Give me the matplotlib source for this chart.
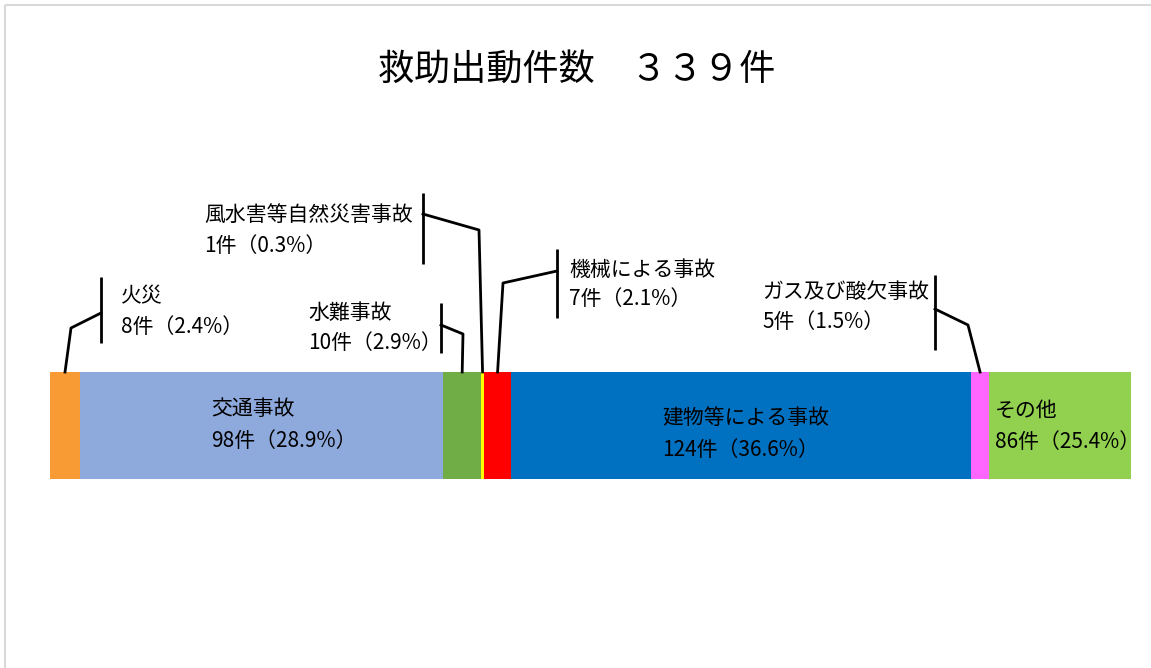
import matplotlib.pyplot as plt
from matplotlib.patches import Rectangle

plt.rcParams['font.family'] = ['Noto Sans CJK JP', 'DejaVu Sans']

# data
title = '救助出動件数　３３９件'
categories = ['火災', '交通事故', '水難事故', '風水害等自然災害事故',
              '機械による事故', '建物等による事故', 'ガス及び酸欠事故', 'その他']
counts = [8, 98, 10, 1, 7, 124, 5, 86]
pcts = ['2.4', '28.9', '2.9', '0.3', '2.1', '36.6', '1.5', '25.4']
# segment lengths as drawn in the bar (% of bar length)
bar_share = [2.78, 33.62, 3.49, 0.28, 2.50, 42.54, 1.72, 13.08]
colors = ['#F99B35', '#8EA9DB', '#70AD47', '#FFFF00',
          '#FF0000', '#0070C0', '#FF66FF', '#92D050']

W, H = 1151, 668
fig = plt.figure(figsize=(W / 100, H / 100), dpi=100)
fig.patch.set_facecolor('white')

# bar axes
ax = fig.add_axes([50 / W, (H - 479) / H, 1080.7 / W, 107 / H])
lefts = [sum(bar_share[:i]) for i in range(len(bar_share))]
ax.barh(0, bar_share, left=lefts, height=1, color=colors, edgecolor='none')
ax.set_xlim(0, sum(bar_share))
ax.set_ylim(-0.5, 0.5)
ax.axis('off')

# overlay in pixel coords for labels / leaders
ov = fig.add_axes([0, 0, 1, 1], zorder=5)
ov.set_xlim(0, W)
ov.set_ylim(H, 0)
ov.axis('off')
ov.patch.set_alpha(0)

ov.add_patch(Rectangle((5, 5), W + 20, H + 20, fill=False,
                       edgecolor='#d9d9d9', lw=1.5, clip_on=False))

ov.text(577, 70, title, fontsize=26, ha='center', va='center')

def lines_of(i):
    return categories[i], f'{counts[i]}件（{pcts[i]}%）'

# inside labels: index -> (left x, y1, y2)
inside = {1: (211, 409, 441), 5: (662, 418, 450), 7: (995, 411, 442)}
for i, (x, y1, y2) in inside.items():
    l1, l2 = lines_of(i)
    ov.text(x, y1, l1, fontsize=15, va='center', ha='left')
    ov.text(x, y2, l2, fontsize=15, va='center', ha='left')

# outside labels: index -> text pos, vertical bar (x, y0, y1), join y, bend point
outside = {
    0: dict(tx=121, y1=296, y2=327, vb=(101, 277, 343), jy=313, bend=(71, 328)),
    2: dict(tx=308, y1=313, y2=343, vb=(441, 303, 353), jy=325, bend=(463, 334)),
    3: dict(tx=204, y1=215, y2=246, vb=(423, 193, 264), jy=214, bend=(479, 230)),
    4: dict(tx=569, y1=270, y2=299, vb=(557, 249, 318), jy=271, bend=(503, 283)),
    6: dict(tx=762, y1=292, y2=322, vb=(935, 275, 350), jy=309, bend=(968, 325)),
}
to_ov = ov.transData.inverted()
for i, o in outside.items():
    l1, l2 = lines_of(i)
    ov.text(o['tx'], o['y1'], l1, fontsize=15, va='center', ha='left')
    ov.text(o['tx'], o['y2'], l2, fontsize=15, va='center', ha='left')
    vx, vy0, vy1 = o['vb']
    ov.plot([vx, vx], [vy0, vy1], color='black', lw=2, solid_capstyle='butt')
    cx = lefts[i] + bar_share[i] / 2
    ax_pt = to_ov.transform(ax.transData.transform((cx, 0.5)))
    ov.plot([vx, o['bend'][0], ax_pt[0]], [o['jy'], o['bend'][1], ax_pt[1]],
            color='black', lw=2)

fig.savefig('out.png', dpi=100)
